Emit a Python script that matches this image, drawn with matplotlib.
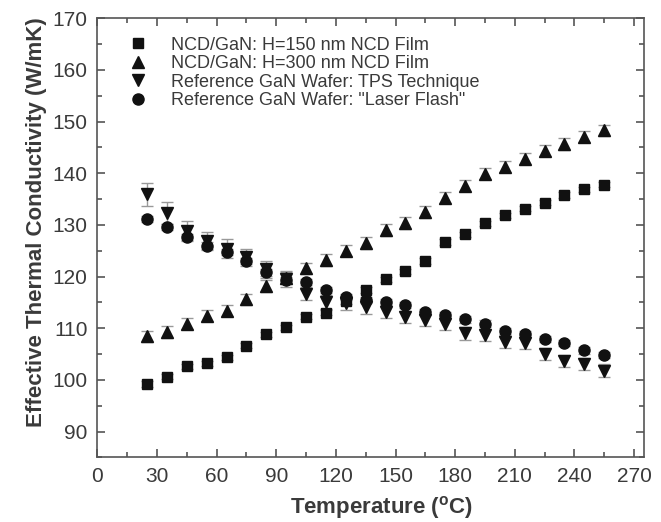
import numpy as np
import matplotlib
matplotlib.use("Agg")
import matplotlib.pyplot as plt
from matplotlib.ticker import MultipleLocator

plt.rcParams['font.family'] = ['Liberation Sans', 'DejaVu Sans']

# temperatures (deg C)
temps = [25, 35, 45, 55, 65, 75, 85, 95, 105, 115, 125, 135,
         145, 155, 165, 175, 185, 195, 205, 215, 225, 235, 245, 255]

# NCD/GaN, H=150 nm
k_150 = [99.2, 100.6, 102.6, 103.2, 104.4, 106.6, 108.8, 110.2, 112.2, 113.0, 115.2, 117.4,
         119.5, 121.0, 123.0, 126.7, 128.2, 130.3, 131.9, 133.1, 134.3, 135.8, 136.9, 137.8]
err_150 = [0.5] * 24

# NCD/GaN, H=300 nm
k_300 = [108.4, 109.3, 110.9, 112.4, 113.4, 115.6, 118.2, 119.7, 121.6, 123.2, 125.0, 126.5,
         129.0, 130.4, 132.5, 135.3, 137.6, 139.9, 141.3, 142.8, 144.4, 145.7, 147.1, 148.3]
err_300 = [1.1] * 24

# reference GaN wafer, TPS
k_tps = [135.9, 132.3, 128.8, 126.9, 125.4, 123.7, 121.4, 119.5, 116.7, 115.1, 114.8, 114.1,
         113.2, 112.2, 111.6, 110.9, 109.0, 108.7, 107.4, 107.1, 105.0, 103.7, 103.1, 101.8]
err_tps = [2.2, 2.2, 2.0, 1.8, 1.8, 1.6, 1.6, 1.5, 1.3, 1.3, 1.3, 1.3,
           1.2, 1.2, 1.2, 1.2, 1.2, 1.2, 1.2, 1.2, 1.2, 1.2, 1.2, 1.2]

# reference GaN wafer, laser flash
k_lf = [131.1, 129.6, 127.7, 126.0, 124.8, 123.0, 120.8, 119.4, 119.0, 117.4, 116.1, 115.4,
        115.1, 114.5, 113.2, 112.5, 111.7, 110.9, 109.5, 108.9, 107.9, 107.1, 105.7, 104.8]
err_lf = [0.6] * 24

labels = ["NCD/GaN: H=150 nm NCD Film",
          "NCD/GaN: H=300 nm NCD Film",
          "Reference GaN Wafer: TPS Technique",
          "Reference GaN Wafer: \"Laser Flash\""]

fig = plt.figure(figsize=(6.61, 5.22), dpi=100)
ax = fig.add_axes([0.1472, 0.1239, 0.8271, 0.841])

series = [(k_150, err_150, 's', 7.5),
          (k_300, err_300, '^', 8.5),
          (k_tps, err_tps, 'v', 8.5),
          (k_lf, err_lf, 'o', 8.0)]

for (vals, err, mk, ms), lab in zip(series, labels):
    ax.errorbar(temps, vals, yerr=err, fmt='none', ecolor='#999999',
                elinewidth=1.0, capsize=4, capthick=1.0, zorder=2)
    ax.plot(temps, vals, linestyle='none', marker=mk, markersize=ms,
            color='#111111', label=lab, zorder=3)

ax.set_xlim(0, 275)
ax.set_ylim(85, 170)
ax.xaxis.set_major_locator(MultipleLocator(30))
ax.xaxis.set_minor_locator(MultipleLocator(15))
ax.yaxis.set_major_locator(MultipleLocator(10))
ax.yaxis.set_minor_locator(MultipleLocator(5))

txt = '#3a3a3a'
for s in ax.spines.values():
    s.set_color('#555555')
    s.set_linewidth(1.2)
ax.tick_params(which='both', direction='in', top=True, right=True,
               color='#555555', width=1.2, labelsize=15, labelcolor=txt, pad=7)
ax.tick_params(which='major', length=6)
ax.tick_params(which='minor', length=3.5)

ax.set_xlabel("Temperature ($\\mathregular{^o}$C)", fontsize=16, fontweight='bold',
              color=txt, labelpad=5.5)
ax.xaxis.label.set_x(0.52)
ax.set_ylabel("Effective Thermal Conductivity (W/mK)", fontsize=16, fontweight='bold',
              color=txt, labelpad=4)
ax.yaxis.label.set_y(0.535)

leg = ax.legend(loc='upper left', bbox_to_anchor=(0.045, 0.975), frameon=False,
                fontsize=13, handlelength=1.0, handletextpad=1.3,
                labelspacing=0.09, borderaxespad=0)
for t in leg.get_texts():
    t.set_color(txt)

fig.savefig("out.png", dpi=100)
